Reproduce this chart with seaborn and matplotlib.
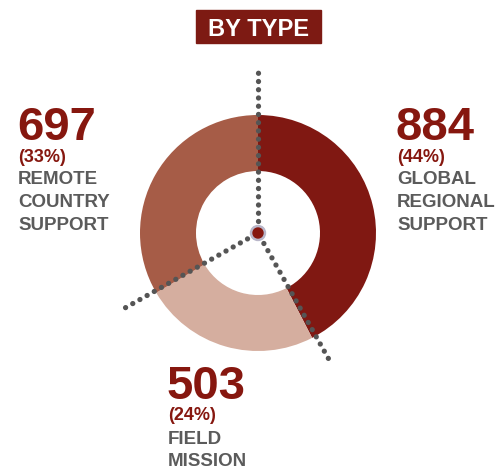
import numpy as np
import matplotlib
matplotlib.use("Agg")
import matplotlib.pyplot as plt
from matplotlib.patches import Rectangle, Circle
import seaborn as sns

# ---- data ----
categories = ["GLOBAL\nREGIONAL\nSUPPORT", "FIELD\nMISSION", "REMOTE\nCOUNTRY\nSUPPORT"]
counts = [884, 503, 697]
pct_labels = ["(44%)", "(24%)", "(33%)"]
title = "BY TYPE"

colors = ["#801812", "#d5ae9f", "#a65c47"]
dark_red = "#86170f"
grey_txt = "#5b5b5b"
dot_grey = "#555555"

sns.set_theme(style="white")
plt.rcParams["font.family"] = ["Liberation Sans", "DejaVu Sans"]

W, H = 499, 470
fig = plt.figure(figsize=(W / 100, H / 100), dpi=100)
ax = fig.add_axes([0, 0, 1, 1])

cx, cy = 258, 233
r_out, r_in = 118, 62

# pie on an inverted y axis: counterclock=True draws clockwise on screen
wedges, _ = ax.pie(counts, colors=colors, startangle=-90, counterclock=True,
                   radius=r_out, center=(cx, cy), frame=True,
                   wedgeprops=dict(width=r_out - r_in, linewidth=0))
ax.set_xlim(0, W)
ax.set_ylim(H, 0)
ax.set_aspect("equal")
ax.axis("off")

# dotted leader lines along the wedge boundaries
total = sum(counts)
bounds = np.cumsum([0] + counts[:-1]) / total * 360
offsets = [0, -2, 1]
lengths = [163, 151, 159]
for ang, off, L in zip(bounds, offsets, lengths):
    a = np.deg2rad(ang + off)
    dx, dy = np.sin(a), -np.cos(a)
    ax.plot([cx + 12 * dx, cx + L * dx], [cy + 12 * dy, cy + L * dy],
            color=dot_grey, lw=3.8, linestyle=(0, (0.01, 1.55)),
            dash_capstyle="round", solid_capstyle="round", zorder=5)

# centre marker
ax.add_patch(Circle((cx, cy), 7.5, color="#b9b6c9", zorder=6))
ax.add_patch(Circle((cx, cy), 5, color=dark_red, zorder=7))

# labels: (x, baseline of number)
label_pos = [(396, 140), (167, 399), (17, 140)]
for (x, y), n, p, c in zip(label_pos, counts, pct_labels, categories):
    ax.text(x, y, f"{n}", fontsize=34, fontweight="bold", color=dark_red,
            va="baseline", ha="left")
    ax.text(x + 1, y + 21.5, p, fontsize=13, fontweight="bold", color=dark_red,
            va="baseline", ha="left")
    for i, line in enumerate(c.split("\n")):
        ax.text(x + 1, y + 44.5 + i * 22.5, line, fontsize=13.5, fontweight="bold",
                color=grey_txt, va="baseline", ha="left")

# title box
ax.add_patch(Rectangle((196, 10), 125, 33, color="#7d1a13", zorder=3))
ax.text(258.5, 27, title, fontsize=17, fontweight="bold", color="white",
        ha="center", va="center_baseline", zorder=4)

fig.savefig("out.png", dpi=100)
